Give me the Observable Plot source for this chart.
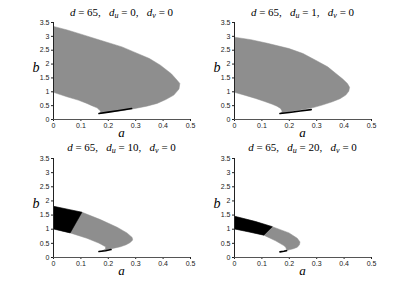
<!DOCTYPE html>
<html><head><meta charset="utf-8">
<script src="https://cdn.jsdelivr.net/npm/d3@7"></script>
<script src="https://cdn.jsdelivr.net/npm/@observablehq/plot@0.6"></script>
<style>
body{margin:0;background:#fff;}
#wrap{position:relative;width:409px;height:289px;overflow:hidden;background:#fff;}
#wrap svg{position:absolute;}
</style></head><body><div id="wrap"></div>
<script>
// Parameters shown in the panel titles
const dValue = 65;
const duValues = [0, 1, 10, 20];
const dvValue = 0;
const xTicks = [0, 0.1, 0.2, 0.3, 0.4, 0.5];
const yTicks = [0, 0.5, 1, 1.5, 2, 2.5, 3, 3.5];

// Panel 1 (du = 0): gray region boundary (a, b)
const gray1A = [0, 0.05, 0.1, 0.171, 0.25, 0.293, 0.35, 0.39, 0.43, 0.451, 0.461, 0.458, 0.439, 0.41, 0.378, 0.34, 0.293, 0.25, 0.207, 0.168, 0.172, 0.166, 0.159, 0.14, 0.122, 0.09, 0.049, 0];
const gray1B = [3.36, 3.23, 3.08, 2.86, 2.62, 2.44, 2.20, 1.96, 1.65, 1.42, 1.30, 1.10, 0.88, 0.72, 0.58, 0.48, 0.39, 0.32, 0.27, 0.21, 0.30, 0.36, 0.42, 0.50, 0.58, 0.70, 0.82, 0.98];
const black1A = [];
const black1B = [];
const strip1A = [0.166, 0.2, 0.24, 0.285];
const strip1B = [0.215, 0.265, 0.325, 0.395];

// Panel 2 (du = 1)
const gray2A = [0, 0.06, 0.12, 0.199, 0.25, 0.296, 0.34, 0.37, 0.395, 0.412, 0.42, 0.417, 0.406, 0.385, 0.357, 0.32, 0.284, 0.245, 0.211, 0.168, 0.174, 0.168, 0.155, 0.138, 0.11, 0.077, 0.04, 0];
const gray2B = [2.97, 2.88, 2.75, 2.56, 2.38, 2.14, 1.90, 1.66, 1.46, 1.30, 1.16, 1.02, 0.88, 0.75, 0.64, 0.52, 0.42, 0.35, 0.30, 0.21, 0.30, 0.40, 0.48, 0.55, 0.65, 0.76, 0.87, 0.98];
const black2A = [];
const black2B = [];
const strip2A = [0.166, 0.2, 0.24, 0.28];
const strip2B = [0.215, 0.255, 0.305, 0.355];

// Panel 3 (du = 10)
const gray3A = [0, 0.104, 0.171, 0.232, 0.268, 0.287, 0.289, 0.28, 0.265, 0.244, 0.225, 0.207, 0.19, 0.177, 0.19, 0.19, 0.175, 0.165, 0.122, 0.061, 0];
const gray3B = [1.81, 1.60, 1.34, 1.07, 0.87, 0.71, 0.62, 0.53, 0.45, 0.38, 0.34, 0.30, 0.26, 0.23, 0.30, 0.38, 0.46, 0.51, 0.68, 0.87, 1.01];
const black3A = [0, 0.05, 0.104, 0.061, 0.03, 0];
const black3B = [1.81, 1.71, 1.60, 0.87, 0.94, 1.01];
const strip3A = [0.166, 0.19, 0.21];
const strip3B = [0.21, 0.24, 0.28];

// Panel 4 (du = 20)
const gray4A = [0, 0.077, 0.138, 0.199, 0.229, 0.239, 0.237, 0.229, 0.215, 0.199, 0.185, 0.177, 0.19, 0.187, 0.18, 0.15, 0.107, 0.05, 0];
const gray4B = [1.46, 1.27, 1.09, 0.87, 0.68, 0.55, 0.45, 0.36, 0.31, 0.27, 0.23, 0.20, 0.28, 0.36, 0.42, 0.59, 0.79, 0.91, 1.01];
const black4A = [0, 0.077, 0.138, 0.107, 0.05, 0];
const black4B = [1.46, 1.27, 1.09, 0.79, 0.91, 1.01];
const strip4A = [0.166, 0.18, 0.19];
const strip4B = [0.20, 0.22, 0.24];

const panels = [
  {du: duValues[0], gA: gray1A, gB: gray1B, kA: black1A, kB: black1B, sA: strip1A, sB: strip1B, left: 0, top: 0, titleY: 16},
  {du: duValues[1], gA: gray2A, gB: gray2B, kA: black2A, kB: black2B, sA: strip2A, sB: strip2B, left: 181, top: 0, titleY: 16},
  {du: duValues[2], gA: gray3A, gB: gray3B, kA: black3A, kB: black3B, sA: strip3A, sB: strip3B, left: 0, top: 136, titleY: 15},
  {du: duValues[3], gA: gray4A, gB: gray4B, kA: black4A, kB: black4B, sA: strip4A, sB: strip4B, left: 181, top: 136, titleY: 15}
];

const zip = (A, B) => A.map((a, i) => ({a, b: B[i]}));
const W = 204, ML = 53, MR = 14, MT = 22;
const wrap = document.getElementById("wrap");
const serif = "'Liberation Serif', 'DejaVu Serif', serif";

panels.forEach((p, idx) => {
  const H = p.top === 0 ? 144 : 146;
  const MB = 25;
  const svg = Plot.plot({
    width: W, height: H,
    marginLeft: ML, marginRight: MR, marginTop: MT, marginBottom: MB,
    style: {fontSize: "7px", fontFamily: "'Liberation Sans', Arial, sans-serif", color: "#222", background: "transparent"},
    x: {domain: [0, 0.5], ticks: xTicks, tickSize: 2, tickPadding: 2, tickFormat: d => String(d), label: null},
    y: {domain: [0, 3.5], ticks: yTicks, tickSize: 2, tickPadding: 2, tickFormat: d => String(d), label: null},
    marks: [
      Plot.line(zip(p.gA, p.gB), {x: "a", y: "b", fill: "#8e8e8e", stroke: "#8e8e8e", strokeWidth: 0.5}),
      Plot.line(zip(p.kA, p.kB), {x: "a", y: "b", fill: "#000", stroke: "#000", strokeWidth: 0.5}),
      Plot.line(zip(p.sA, p.sB), {x: "a", y: "b", stroke: "#000", strokeWidth: 1.6}),
      Plot.ruleX([0], {stroke: "#222", strokeWidth: 1}),
      Plot.ruleY([0], {stroke: "#555", strokeWidth: 1})
    ]
  });
  svg.style.left = p.left + "px";
  svg.style.top = p.top + "px";
  const s = d3.select(svg);
  const cx = ML + (W - ML - MR) / 2;
  const areaBottom = H - MB;
  // title with subscripts
  const t = s.append("text")
    .attr("x", cx).attr("y", p.titleY)
    .attr("text-anchor", "middle")
    .style("font-family", serif).style("font-size", "11px").style("fill", "#000")
    .attr("xml:space", "preserve").style("white-space", "pre");
  t.append("tspan").style("font-style", "italic").text("d");
  t.append("tspan").text(" = " + dValue + ",\u2002 ");
  t.append("tspan").style("font-style", "italic").text("d");
  t.append("tspan").style("font-size", "8px").attr("dy", 2).style("font-style", "italic").text("u");
  t.append("tspan").attr("dy", -2).text(" = " + p.du + ",\u2002 ");
  t.append("tspan").style("font-style", "italic").text("d");
  t.append("tspan").style("font-size", "8px").attr("dy", 2).style("font-style", "italic").text("v");
  t.append("tspan").attr("dy", -2).text(" = " + dvValue);
  // axis labels
  s.append("text").attr("x", cx).attr("y", areaBottom + 18)
    .attr("text-anchor", "middle")
    .style("font-family", serif).style("font-size", "13px").style("font-style", "italic").style("fill", "#000")
    .text("a");
  s.append("text").attr("x", 36).attr("y", MT + 50)
    .attr("text-anchor", "middle")
    .style("font-family", serif).style("font-size", "14px").style("font-style", "italic").style("fill", "#000")
    .text("b");
  wrap.appendChild(svg);
});
</script>
</body></html>
